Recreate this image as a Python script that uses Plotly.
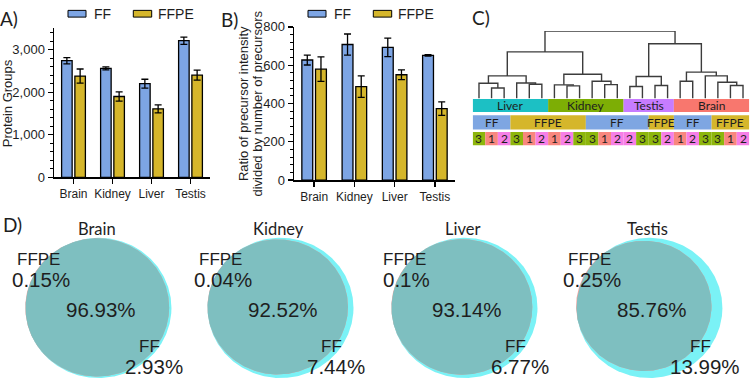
import numpy as np
import plotly.graph_objects as go

W, H = 750, 388

# ---------------- data ----------------
tissues = ["Brain", "Kidney", "Liver", "Testis"]

protein_ff = [2740, 2560, 2200, 3210]
protein_ff_err = [72, 37, 105, 85]
protein_ffpe = [2380, 1900, 1610, 2400]
protein_ffpe_err = [165, 110, 95, 117]

ratio_ff = [627, 708, 693, 651]
ratio_ff_err = [26, 55, 48, 4]
ratio_ffpe = [579, 488, 550, 373]
ratio_ffpe_err = [64, 56, 25, 35]

# dendrogram leaves (left to right)
leaf_tissue = ["Liver", "Liver", "Liver", "Liver", "Liver", "Liver",
               "Kidney", "Kidney", "Kidney", "Kidney", "Kidney", "Kidney",
               "Testis", "Testis", "Testis", "Testis",
               "Brain", "Brain", "Brain", "Brain", "Brain", "Brain"]
leaf_state = ["FF", "FF", "FF", "FFPE", "FFPE", "FFPE",
              "FFPE", "FFPE", "FFPE", "FF", "FF", "FF",
              "FF", "FF", "FFPE", "FFPE",
              "FF", "FF", "FF", "FFPE", "FFPE", "FFPE"]
leaf_rep = [3, 1, 2, 3, 1, 2, 1, 2, 3, 3, 1, 2, 2, 3, 3, 2, 1, 2, 3, 3, 1, 2]

# linkage: merge child a with child b at height h (ids >= 22 are earlier merges)
link_a = [1, 0, 4, 3, 23, 7, 6, 10, 9, 28, 26, 12, 14, 33, 16, 20, 19, 18, 36, 35, 32]
link_b = [2, 22, 5, 24, 25, 8, 27, 11, 29, 30, 31, 13, 15, 34, 17, 21, 37, 38, 39, 40, 41]
link_h = [10.7, 15.7, 14.7, 16.0, 23.3, 13.0, 14.0, 14.3, 17.7, 25.0, 48.3,
          12.3, 13.3, 22.7, 17.7, 13.3, 16.7, 23.3, 27.3, 56.7, 70.0]

venn_tissues = ["Brain", "Kidney", "Liver", "Testis"]
venn_ffpe_only = [0.15, 0.04, 0.1, 0.25]
venn_shared = [96.93, 92.52, 93.14, 85.76]
venn_ff_only = [2.93, 7.44, 6.77, 13.99]

# ---------------- styles ----------------
FF_C = "#7DA5E4"
FFPE_C = "#D5B62B"
TISSUE_C = {"Liver": "#1CC0C4", "Kidney": "#7DAE05", "Testis": "#C77CFF", "Brain": "#F8776E"}
STATE_C = {"FF": "#7EA6E2", "FFPE": "#D5B62B"}
REP_C = {1: "#F8877E", 2: "#F67FE6", 3: "#8DB60C"}
TXT = "#1e1e1e"
ARIAL = "Liberation Sans, Arial, sans-serif"
CALI = "Lato, Carlito, sans-serif"


def px(x):
    return x / W


def py(y):
    return 1 - y / H


fig = go.Figure()
annotations = []
shapes = []


def paper_text(text, x, y, size, fam=ARIAL, angle=0, xanchor="center"):
    annotations.append(dict(text=text, x=px(x), y=py(y), xref="paper", yref="paper",
                            xanchor=xanchor, yanchor="middle", textangle=angle,
                            showarrow=False, font=dict(family=fam, size=size, color=TXT)))


# ---------------- Panel A & B bars ----------------
def add_bars(xa, ya, ff, fferr, ffpe, ffpeerr):
    for vals, errs, col, off in [(ff, fferr, FF_C, -0.305), (ffpe, ffpeerr, FFPE_C, 0.035)]:
        fig.add_trace(go.Bar(
            x=tissues, y=vals, width=0.27, offset=off,
            marker=dict(color=col, line=dict(color="black", width=1.3)),
            error_y=dict(type="data", array=errs, color="black", thickness=1.3, width=3.5),
            xaxis=xa, yaxis=ya, hoverinfo="skip"))


add_bars("x", "y", protein_ff, protein_ff_err, protein_ffpe, protein_ffpe_err)
add_bars("x2", "y2", ratio_ff, ratio_ff_err, ratio_ffpe, ratio_ffpe_err)

bar_x = dict(type="category", categoryorder="array", categoryarray=tissues,
             range=[-0.5, 3.5], showline=True, linecolor="black", linewidth=1.5,
             ticks="outside", ticklen=5, tickwidth=1.3, tickcolor="black",
             tickfont=dict(family=ARIAL, size=12, color=TXT), showgrid=False,
             zeroline=False, fixedrange=True)
bar_y = dict(showline=True, linecolor="black", linewidth=1.5, ticks="outside",
             ticklen=5, tickwidth=1.3, tickcolor="black",
             tickfont=dict(family=ARIAL, size=13, color=TXT), showgrid=False,
             zeroline=False, fixedrange=True, tick0=0)

layout = dict(
    xaxis=dict(bar_x, domain=[px(54), px(210)], anchor="y"),
    yaxis=dict(bar_y, domain=[py(177.3), py(22.2)], anchor="x", range=[0, 3500],
               dtick=1000, tickformat=",d",
               minor=dict(dtick=200, ticks="outside", ticklen=3, tickwidth=1, tickcolor="black")),
    xaxis2=dict(bar_x, domain=[px(294), px(455)], anchor="y2"),
    yaxis2=dict(bar_y, domain=[py(180), py(20.7)], anchor="x2", range=[0, 800],
                dtick=200,
                minor=dict(dtick=40, ticks="outside", ticklen=3, tickwidth=1, tickcolor="black")),
)

# y titles
paper_text("Protein Groups", 7, 100, 13, angle=-90)
paper_text("Ratio of precursor intensity", 243, 101, 13, angle=-90)
paper_text("divided by number of precursors", 257.5, 101, 13, angle=-90)

# legends
for dx in (0, 240):
    for x0, x1, col, lab, tx in [(68, 86, FF_C, "FF", 91.5), (133.3, 151.7, FFPE_C, "FFPE", 156)]:
        shapes.append(dict(type="rect", xref="paper", yref="paper", x0=px(x0 + dx), x1=px(x1 + dx),
                           y0=py(10.5), y1=py(3.5), fillcolor=col, line=dict(color="black", width=1)))
        paper_text(lab, tx + dx, 7, 14, xanchor="left")

# panel letters
for lab, x, y in [("A)", 9, 11.5), ("B)", 230, 13), ("C)", 481, 11), ("D)", 12, 226)]:
    paper_text(lab, x, y, 19, fam=CALI)

# ---------------- Panel C dendrogram ----------------
n_leaf = len(leaf_rep)
pos = {i: i + 0.5 for i in range(n_leaf)}
hgt = {i: 0.0 for i in range(n_leaf)}
dx_, dy_ = [], []
for k, (a, b, h) in enumerate(zip(link_a, link_b, link_h)):
    dx_ += [pos[a], pos[a], pos[b], pos[b], None]
    dy_ += [hgt[a], h, h, hgt[b], None]
    pos[n_leaf + k] = (pos[a] + pos[b]) / 2
    hgt[n_leaf + k] = h
fig.add_trace(go.Scatter(x=dx_, y=dy_, mode="lines", line=dict(color="#3c3c3c", width=1.4),
                         xaxis="x3", yaxis="y3", hoverinfo="skip", cliponaxis=False))

layout["xaxis3"] = dict(domain=[px(472.7), px(749.3)], range=[0, n_leaf], visible=False,
                        anchor="y3", fixedrange=True)
layout["yaxis3"] = dict(domain=[py(144), py(25)], range=[-49, 70], visible=False,
                        anchor="x3", fixedrange=True)


def runs(vals):
    out = []
    s = 0
    for i in range(1, len(vals) + 1):
        if i == len(vals) or vals[i] != vals[s]:
            out.append((s, i, vals[s]))
            s = i
    return out


rows = [(leaf_tissue, TISSUE_C, -14.3, -0.7, True),
        (leaf_state, STATE_C, -32.3, -17.7, True),
        (leaf_rep, REP_C, -49, -35, False)]
for vals, cmap, y0, y1, merge in rows:
    segs = runs(vals) if merge else [(i, i + 1, v) for i, v in enumerate(vals)]
    for s, e, v in segs:
        shapes.append(dict(type="rect", xref="x3", yref="y3", x0=s, x1=e, y0=y0, y1=y1,
                           fillcolor=cmap[v], line=dict(width=0), layer="below"))
        annotations.append(dict(text=str(v), x=(s + e) / 2, y=(y0 + y1) / 2, xref="x3", yref="y3",
                                xanchor="center", yanchor="middle",
                                showarrow=False, font=dict(family=CALI, size=12, color=TXT)))

# ---------------- Panel D venns ----------------
UNIT = 73.0  # px per unit radius (100% area circle)
centers_x = [98.5, 280.5, 464.5, 649.5]
center_y = 313.0
ANG = np.deg2rad(160)


def lens_area(d, r1, r2):
    if d >= r1 + r2:
        return 0.0
    if d <= abs(r1 - r2):
        return np.pi * min(r1, r2) ** 2
    a1 = r1 ** 2 * np.arccos((d * d + r1 * r1 - r2 * r2) / (2 * d * r1))
    a2 = r2 ** 2 * np.arccos((d * d + r2 * r2 - r1 * r1) / (2 * d * r2))
    a3 = 0.5 * np.sqrt((-d + r1 + r2) * (d + r1 - r2) * (d - r1 + r2) * (d + r1 + r2))
    return a1 + a2 - a3


phi = np.linspace(0, 2 * np.pi, 400)
for k, t in enumerate(venn_tissues):
    ff_tot = venn_shared[k] + venn_ff_only[k]
    ffpe_tot = venn_shared[k] + venn_ffpe_only[k]
    r1 = np.sqrt(ff_tot / 100)
    r2 = np.sqrt(ffpe_tot / 100)
    target = np.pi * venn_shared[k] / 100
    lo, hi = abs(r1 - r2), r1 + r2
    for _ in range(80):
        mid = (lo + hi) / 2
        if lens_area(mid, r1, r2) > target:
            lo = mid
        else:
            hi = mid
    d = (lo + hi) / 2
    c2 = np.array([d * np.cos(ANG), d * np.sin(ANG)])
    xa, ya = f"x{4 + k}", f"y{4 + k}"
    # FF circle
    fig.add_trace(go.Scatter(x=r1 * np.cos(phi), y=r1 * np.sin(phi), fill="toself", mode="lines",
                             line=dict(width=0), fillcolor="#7AF2F6", xaxis=xa, yaxis=ya, hoverinfo="skip"))
    # FFPE circle
    fx = c2[0] + r2 * np.cos(phi)
    fy = c2[1] + r2 * np.sin(phi)
    fig.add_trace(go.Scatter(x=fx, y=fy, fill="toself", mode="lines",
                             line=dict(width=0), fillcolor="#F3A29E", xaxis=xa, yaxis=ya, hoverinfo="skip"))
    # overlap lens
    rr = np.sqrt(fx ** 2 + fy ** 2)
    sc = np.where(rr > r1, r1 / rr, 1.0)
    fig.add_trace(go.Scatter(x=fx * sc, y=fy * sc, fill="toself", mode="lines",
                             line=dict(width=0), fillcolor="#7EBFC0", xaxis=xa, yaxis=ya, hoverinfo="skip"))

    cx = centers_x[k]
    half = 84.0
    top = center_y - 95.0
    layout[f"xaxis{4 + k}"] = dict(domain=[px(cx - half), px(cx + half)], range=[-half / UNIT, half / UNIT],
                                   visible=False, anchor=ya, fixedrange=True)
    layout[f"yaxis{4 + k}"] = dict(domain=[0, py(top)], range=[-(H - center_y) / UNIT, 95.0 / UNIT],
                                   visible=False, anchor=xa, fixedrange=True)

    def lab(text, ox, oy, size, fam=ARIAL):
        annotations.append(dict(text=text, x=ox / UNIT, y=-oy / UNIT, xref=xa, yref=ya,
                                xanchor="center", yanchor="middle",
                                showarrow=False, font=dict(family=fam, size=size, color=TXT)))

    lab(t, -2, -82, 16.5, CALI)
    lab("FFPE", -60.5, -50, 17)
    lab(f"{venn_ffpe_only[k]:g}%", -58, -29.5, 20.5)
    lab(f"{venn_shared[k]:g}%", 2.5, 1.5, 20.5)
    lab("FF", 51, 40, 17)
    lab(f"{venn_ff_only[k]:g}%", 55, 60.5, 20.5)

fig.update_layout(**layout)
fig.update_layout(width=W, height=H, margin=dict(l=0, r=0, t=0, b=0),
                  paper_bgcolor="white", plot_bgcolor="white", showlegend=False,
                  barmode="overlay", annotations=annotations, shapes=shapes)

fig.write_html("out.html", config={"displayModeBar": False, "staticPlot": True},
               post_script="document.body.style.margin='0';document.body.style.overflow='hidden';")
